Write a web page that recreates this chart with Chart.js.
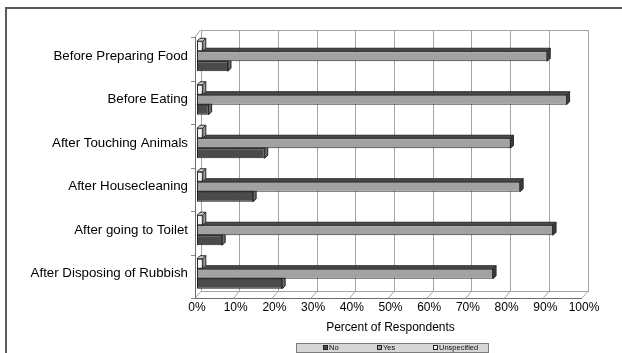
<!DOCTYPE html>
<html>
<head>
<meta charset="utf-8">
<script src="https://cdn.jsdelivr.net/npm/chart.js@4.4.1/dist/chart.umd.min.js"></script>
<style>
  html, body { margin: 0; padding: 0; background: #ffffff; overflow: hidden; }
  #wrap { width: 622px; height: 353px; position: relative; }
</style>
</head>
<body>
<div id="wrap"><canvas id="c" width="622" height="353"></canvas></div>
<script>
// Hand-washing occasions and share of respondents (%)
const categories = [
  'Before Preparing Food',
  'Before Eating',
  'After Touching Animals',
  'After Housecleaning',
  'After going to Toilet',
  'After Disposing of Rubbish'
];
const noValues = [8, 3, 17.5, 14.5, 6.5, 22];
const yesValues = [90.5, 95.5, 81, 83.5, 92, 76.5];
const unspecifiedValues = [1.5, 1.5, 1.5, 1.5, 1.5, 1.5];
const percentTicks = [0, 10, 20, 30, 40, 50, 60, 70, 80, 90, 100];
const legendLabels = ['No', 'Yes', 'Unspecified'];

// Styles: front face, top face, side face, outline
const styleNo = { front: '#4b4b4b', top: '#3a3a3a', side: '#6a6a6a', line: '#1e1e1e' };
const styleYes = { front: '#a2a2a2', top: '#4a4a4a', side: '#3c3c3c', line: '#2a2a2a' };
const styleUnspec = { front: '#f4f4f4', top: '#cfcfcf', side: '#9a9a9a', line: '#2a2a2a' };

const FONT = "'Liberation Sans', Arial, sans-serif";
const DEPTH = { dx: 3, dy: -3 };       // bar extrusion
const BACK = { dx: 3.5, dy: -4.5 };    // back wall offset from bar plane
const FRONT = { dx: -2, dy: 2.5 };     // front edge offset from bar plane

// Page frame (left and top rules)
const pageFrame = {
  id: 'pageFrame',
  beforeDraw(chart) {
    const ctx = chart.ctx;
    ctx.save();
    ctx.fillStyle = '#ffffff';
    ctx.fillRect(0, 0, chart.width, chart.height);
    ctx.strokeStyle = '#5a5a5a';
    ctx.lineWidth = 2;
    ctx.beginPath();
    ctx.moveTo(6, chart.height);
    ctx.lineTo(6, 8);
    ctx.lineTo(chart.width, 8);
    ctx.stroke();
    ctx.restore();
  }
};

// Box walls, floor and gridlines of the 3-D plot
const walls3d = {
  id: 'walls3d',
  beforeDatasetsDraw(chart) {
    const ctx = chart.ctx;
    const a = chart.chartArea;
    const xs = chart.scales.x;
    const L = a.left + BACK.dx, R = a.right + BACK.dx;
    const T = a.top + BACK.dy, B = a.bottom + BACK.dy;
    const fl = a.left + FRONT.dx, fr = a.right + FRONT.dx;
    const ft = a.top + FRONT.dy, fb = a.bottom + FRONT.dy;
    ctx.save();
    ctx.lineWidth = 1;
    ctx.strokeStyle = '#a4a4a4';
    // back wall
    ctx.strokeRect(Math.round(L) + 0.5, Math.round(T) + 0.5, Math.round(R - L), Math.round(B - T));
    // gridlines on back wall and floor diagonals
    percentTicks.forEach(v => {
      const px = xs.getPixelForValue(v);
      const bx = Math.round(px + BACK.dx) + 0.5;
      ctx.beginPath();
      ctx.moveTo(bx, T);
      ctx.lineTo(bx, B);
      ctx.moveTo(bx, B);
      ctx.lineTo(px + FRONT.dx, fb);
      ctx.stroke();
    });
    // left wall top edge
    ctx.beginPath();
    ctx.moveTo(fl, ft);
    ctx.lineTo(L, T);
    ctx.stroke();
    // front axes
    ctx.strokeStyle = '#6e6e6e';
    ctx.beginPath();
    ctx.moveTo(Math.round(fl) + 0.5, ft);
    ctx.lineTo(Math.round(fl) + 0.5, fb);
    ctx.moveTo(fl, Math.round(fb) + 0.5);
    ctx.lineTo(fr, Math.round(fb) + 0.5);
    ctx.stroke();
    // category tick marks on the front axis
    const n = categories.length;
    const step = (a.bottom - a.top) / n;
    ctx.strokeStyle = '#8a8a8a';
    for (let i = 0; i <= n; i++) {
      const y = Math.round(a.top + i * step + FRONT.dy) + 0.5;
      ctx.beginPath();
      ctx.moveTo(fl - 4, y);
      ctx.lineTo(fl, y);
      ctx.stroke();
    }
    ctx.restore();
  }
};

// Extruded top and side faces of every bar
const barFaces = {
  id: 'barFaces',
  afterDatasetDraw(chart, args) {
    const ctx = chart.ctx;
    const ds = chart.data.datasets[args.index];
    const st = ds.faceStyle;
    ctx.save();
    ctx.lineWidth = 1;
    ctx.strokeStyle = st.line;
    args.meta.data.forEach(el => {
      const p = el.getProps(['x', 'y', 'base', 'height'], true);
      const top = p.y - p.height / 2, bot = p.y + p.height / 2;
      const x0 = p.base, x1 = p.x;
      // top face
      ctx.fillStyle = st.top;
      ctx.beginPath();
      ctx.moveTo(x0, top);
      ctx.lineTo(x1, top);
      ctx.lineTo(x1 + DEPTH.dx, top + DEPTH.dy);
      ctx.lineTo(x0 + DEPTH.dx, top + DEPTH.dy);
      ctx.closePath();
      ctx.fill();
      ctx.stroke();
      // side face
      ctx.fillStyle = st.side;
      ctx.beginPath();
      ctx.moveTo(x1, top);
      ctx.lineTo(x1 + DEPTH.dx, top + DEPTH.dy);
      ctx.lineTo(x1 + DEPTH.dx, bot + DEPTH.dy);
      ctx.lineTo(x1, bot);
      ctx.closePath();
      ctx.fill();
      ctx.stroke();
    });
    ctx.restore();
  }
};

// Boxed legend under the axis title
const boxLegend = {
  id: 'boxLegend',
  afterDraw(chart) {
    const ctx = chart.ctx;
    const styles = [styleNo, styleYes, styleUnspec];
    const xs = [323, 377, 433];
    ctx.save();
    ctx.fillStyle = '#d6d6d6';
    ctx.strokeStyle = '#7c7c7c';
    ctx.lineWidth = 1;
    ctx.fillRect(296, 343, 192, 9);
    ctx.strokeRect(296.5, 343.5, 192, 9);
    ctx.font = '7.5px ' + FONT;
    ctx.textBaseline = 'middle';
    legendLabels.forEach((lab, i) => {
      ctx.fillStyle = styles[i].front;
      ctx.fillRect(xs[i], 345.5, 4, 4);
      ctx.strokeStyle = '#222';
      ctx.strokeRect(xs[i] + 0.5, 345.5, 4, 4);
      ctx.fillStyle = '#111';
      ctx.fillText(lab, xs[i] + 6, 348);
    });
    ctx.restore();
  }
};

const mk = (label, data, st) => ({
  label,
  data,
  faceStyle: st,
  backgroundColor: st.front,
  borderColor: st.line,
  borderWidth: 1,
  borderSkipped: false,
  categoryPercentage: 0.69,
  barPercentage: 1.0
});

new Chart(document.getElementById('c'), {
  type: 'bar',
  data: {
    labels: categories,
    datasets: [
      mk('Unspecified', unspecifiedValues, styleUnspec),
      mk('Yes', yesValues, styleYes),
      mk('No', noValues, styleNo)
    ]
  },
  options: {
    indexAxis: 'y',
    responsive: false,
    animation: false,
    devicePixelRatio: 1,
    layout: { padding: { left: 0, right: 38, top: 34.5, bottom: 0 } },
    plugins: {
      legend: { display: false },
      tooltip: { enabled: false },
      title: { display: false }
    },
    scales: {
      y: {
        type: 'category',
        position: 'left',
        grid: { display: false, drawTicks: false },
        border: { display: false },
        ticks: {
          color: '#000',
          padding: 9,
          font: { family: FONT, size: 13.3 }
        },
        afterFit(s) { s.width = 197; }
      },
      x: {
        type: 'linear',
        position: 'bottom',
        min: 0,
        max: 100,
        grid: { display: false, drawTicks: false },
        border: { display: false },
        afterBuildTicks(s) { s.ticks = percentTicks.map(v => ({ value: v })); },
        ticks: {
          color: '#000',
          padding: 5,
          maxRotation: 0,
          autoSkip: false,
          font: { family: FONT, size: 12 },
          callback: v => v + '%'
        },
        title: {
          display: true,
          text: 'Percent of Respondents',
          color: '#000',
          font: { family: FONT, size: 12 },
          padding: { top: 0, bottom: 18 }
        },
        afterFit(s) { s.height = 57.5; }
      }
    }
  },
  plugins: [pageFrame, walls3d, barFaces, boxLegend]
});
</script>
</body>
</html>
